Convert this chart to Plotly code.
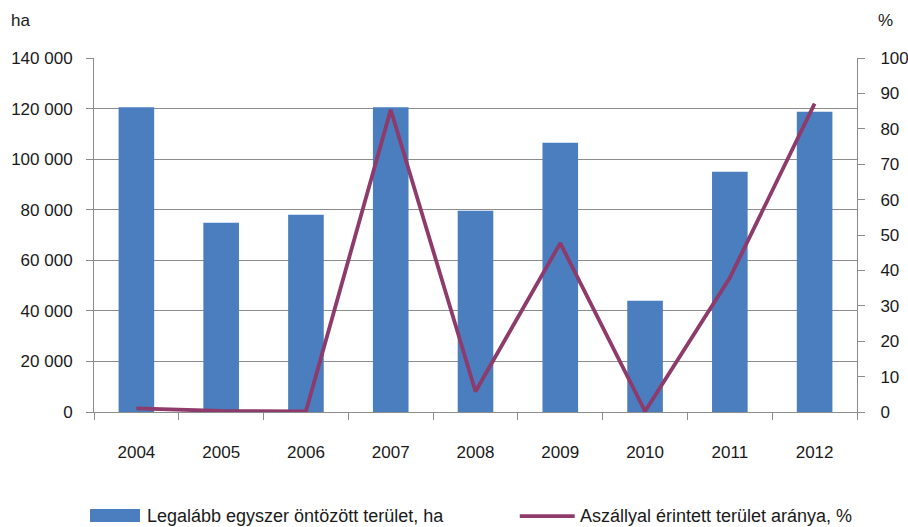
import plotly.graph_objects as go

years = ["2004", "2005", "2006", "2007", "2008", "2009", "2010", "2011", "2012"]
irrigated_ha = [120500, 74800, 78000, 120500, 79600, 106500, 44000, 95000, 118700]
drought_pct = [1.0, 0.3, 0.2, 85.4, 5.8, 47.7, 0.2, 37.9, 87.1]

bar_name = "Legalább egyszer öntözött terület, ha"
line_name = "Aszállyal érintett terület aránya, %"

FONT = "Liberation Sans, Arial, sans-serif"
GRID = "#8c8c8c"
BAR_C = "#4A7EBF"
LINE_C = "#8E3A6B"

fig = go.Figure()
fig.add_trace(go.Bar(x=years, y=irrigated_ha, name=bar_name,
                     marker=dict(color=BAR_C, line=dict(width=0)), yaxis="y"))
fig.add_trace(go.Scatter(x=years, y=drought_pct, name=line_name, mode="lines",
                         line=dict(color=LINE_C, width=3.8), yaxis="y2"))

fig.update_layout(
    width=908, height=527,
    margin=dict(l=94, r=51, t=58, b=115),
    paper_bgcolor="white", plot_bgcolor="white",
    font=dict(family=FONT, size=17, color="#1a1a1a"),
    separators=". ",
    bargap=0.58,
    showlegend=False,
    xaxis=dict(type="category", showgrid=False, showline=True, linecolor=GRID, linewidth=1,
               ticks="outside", ticklen=7, tickcolor=GRID, tickson="boundaries",
               ticklabelstandoff=25, automargin=False),
    yaxis=dict(range=[0, 140000], dtick=20000, tickformat=",d", showgrid=True,
               gridcolor=GRID, gridwidth=1, showline=True, linecolor=GRID, linewidth=1,
               ticks="outside", ticklen=7, tickcolor=GRID, ticklabelstandoff=10,
               zeroline=False, automargin=False),
    yaxis2=dict(range=[0, 100], dtick=10, overlaying="y", side="right", showgrid=False,
                showline=True, linecolor=GRID, linewidth=1, ticks="outside", ticklen=7,
                tickcolor=GRID, ticklabelstandoff=12, zeroline=False, automargin=False),
    shapes=[
        dict(type="rect", xref="paper", yref="paper", x0=-0.0052, x1=0.0603,
             y0=-0.311, y1=-0.274, fillcolor=BAR_C, line=dict(width=0)),
        dict(type="line", xref="paper", yref="paper", x0=0.558, x1=0.630,
             y0=-0.294, y1=-0.294, line=dict(color=LINE_C, width=3.8)),
    ],
    annotations=[
        dict(text="ha", xref="paper", yref="paper", x=-0.0957, y=1.107, xanchor="center",
             yanchor="middle", showarrow=False, font=dict(family=FONT, size=17)),
        dict(text="%", xref="paper", yref="paper", x=1.038, y=1.107, xanchor="center",
             yanchor="middle", showarrow=False, font=dict(family=FONT, size=17)),
        dict(text=bar_name, xref="paper", yref="paper", x=0.0668, y=-0.294, xanchor="left",
             yanchor="middle", showarrow=False, font=dict(family=FONT, size=18)),
        dict(text=line_name, xref="paper", yref="paper", x=0.634, y=-0.294, xanchor="left",
             yanchor="middle", showarrow=False, font=dict(family=FONT, size=18)),
    ],
)

fig.write_html("out.html", config={"displayModeBar": False},
               post_script="document.body.style.margin='0';document.body.style.overflow='hidden';")
